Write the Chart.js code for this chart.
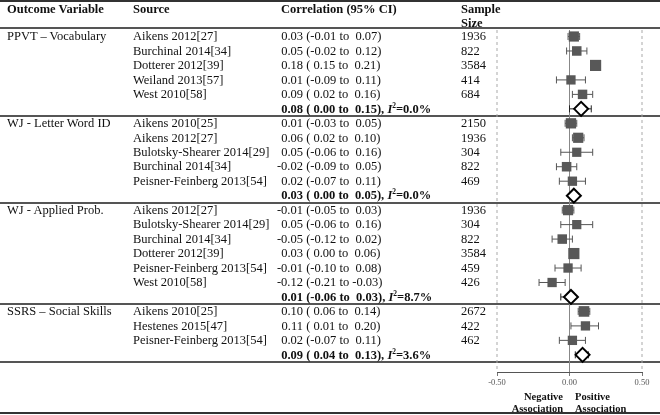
<!DOCTYPE html>
<html>
<head>
<meta charset="utf-8">
<script src="https://cdn.jsdelivr.net/npm/chart.js@4/dist/chart.umd.min.js"></script>
<style>
  body { margin: 0; background: #fff; }
  #wrap { position: relative; width: 660px; height: 415px; overflow: hidden; background: #fff;
          font-family: 'Liberation Serif', 'Times New Roman', serif; font-size: 12.5px; color: #111; }
  .t { position: absolute; white-space: pre; height: 14.5px; line-height: 14.5px; }
  .hd { font-weight: bold; }
  .b { font-weight: bold; }
  .est { display: inline-block; width: 33px; text-align: right; }
  .rule { position: absolute; left: 0; width: 660px; }
  .note { position: absolute; font-weight: bold; font-size: 10.5px; line-height: 12px; white-space: pre; }
  sup { font-size: 7.5px; vertical-align: 5px; line-height: 0; }
  canvas { position: absolute; left: 0; top: 0; }
</style>
</head>
<body>
<div id="wrap">
  <canvas id="forest" width="660" height="415"></canvas>
</div>
<script>
  // Table data
  const outcomes = ['PPVT – Vocabulary', 'WJ - Letter Word ID', 'WJ - Applied Prob.', 'SSRS – Social Skills'];
  const studiesPerOutcome = [5, 5, 6, 3];
  const sources = [
    'Aikens 2012[27]', 'Burchinal 2014[34]', 'Dotterer 2012[39]', 'Weiland 2013[57]', 'West 2010[58]',
    'Aikens 2010[25]', 'Aikens 2012[27]', 'Bulotsky-Shearer 2014[29]', 'Burchinal 2014[34]', 'Peisner-Feinberg 2013[54]',
    'Aikens 2012[27]', 'Bulotsky-Shearer 2014[29]', 'Burchinal 2014[34]', 'Dotterer 2012[39]', 'Peisner-Feinberg 2013[54]', 'West 2010[58]',
    'Aikens 2010[25]', 'Hestenes 2015[47]', 'Peisner-Feinberg 2013[54]'
  ];
  const estimates = [0.03, 0.05, 0.18, 0.01, 0.09,  0.01, 0.06, 0.05, -0.02, 0.02,  -0.01, 0.05, -0.05, 0.03, -0.01, -0.12,  0.10, 0.11, 0.02];
  const lowerCI   = [-0.01, -0.02, 0.15, -0.09, 0.02,  -0.03, 0.02, -0.06, -0.09, -0.07,  -0.05, -0.06, -0.12, 0.00, -0.10, -0.21,  0.06, 0.01, -0.07];
  const upperCI   = [0.07, 0.12, 0.21, 0.11, 0.16,  0.05, 0.10, 0.16, 0.05, 0.11,  0.03, 0.16, 0.02, 0.06, 0.08, -0.03,  0.14, 0.20, 0.11];
  const sampleSizes = [1936, 822, 3584, 414, 684,  2150, 1936, 304, 822, 469,  1936, 304, 822, 3584, 459, 426,  2672, 422, 462];
  const pooledEst = [0.08, 0.03, 0.01, 0.09];
  const pooledLo  = [0.00, 0.00, -0.06, 0.04];
  const pooledHi  = [0.15, 0.05, 0.03, 0.13];
  const iSquared  = ['0.0%', '0.0%', '8.7%', '3.6%'];
  const xTicks = [-0.5, 0, 0.5];

  // Layout (pixels)
  const ROW0 = 36.5, ROW_H = 14.47;
  const COL_OUTCOME = 7, COL_SOURCE = 133, COL_CI = 270, COL_N = 461;
  const PLOT_LEFT = 497, PLOT_RIGHT = 642, PLOT_TOP = 30, PLOT_BOTTOM = 372, AXIS_H = 18;
  const SERIF = "'Liberation Serif', 'Times New Roman', serif";

  const wrap = document.getElementById('wrap');

  function addText(html, x, yCenter, cls) {
    const d = document.createElement('div');
    d.className = 't ' + (cls || '');
    d.style.left = x + 'px';
    d.style.top = (yCenter - 7.25) + 'px';
    d.innerHTML = html;
    wrap.appendChild(d);
  }

  function addRule(y, w, color) {
    const d = document.createElement('div');
    d.className = 'rule';
    d.style.top = (y - w / 2) + 'px';
    d.style.height = w + 'px';
    d.style.background = color;
    wrap.insertBefore(d, wrap.firstChild);
  }

  const pad = v => (v < 0 ? '' : ' ') + v.toFixed(2);
  const ciRest = (lo, hi) => ' (' + pad(lo) + ' to ' + pad(hi) + ')';
  const rowY = r => ROW0 + ROW_H * r;

  // header
  addText('Outcome Variable', COL_OUTCOME, 9, 'hd');
  addText('Source', COL_SOURCE, 9, 'hd');
  addText('Correlation (95% CI)', 281, 9, 'hd');
  addText('Sample', COL_N, 9, 'hd');
  addText('Size', COL_N, 23, 'hd');
  addRule(1, 2, '#333');
  addRule(28, 1.5, '#555');
  addRule(413, 2, '#333');

  // rows
  const studyRows = [];
  const pooledRows = [];
  let r = 0, s = 0;
  outcomes.forEach((name, g) => {
    for (let k = 0; k < studiesPerOutcome[g]; k++) {
      const y = rowY(r);
      if (k === 0) addText(name, COL_OUTCOME, y);
      addText(sources[s], COL_SOURCE, y);
      addText('<span class="est">' + estimates[s].toFixed(2) + '</span>' + ciRest(lowerCI[s], upperCI[s]), COL_CI, y);
      addText(String(sampleSizes[s]), COL_N, y);
      studyRows.push(r);
      s++; r++;
    }
    addText('<span class="est">' + pooledEst[g].toFixed(2) + '</span>' + ciRest(pooledLo[g], pooledHi[g]) +
            ', <i>I</i><sup>2</sup>=' + iSquared[g], COL_CI, rowY(r), 'b');
    pooledRows.push(r);
    addRule(rowY(r + 0.5), 1.5, '#555');
    r++;
  });

  // association notes
  [['Negative', 397], ['Association', 409]].forEach(([txt, y]) => {
    const d = document.createElement('div');
    d.className = 'note';
    d.style.right = (660 - 563) + 'px';
    d.style.top = (y - 6) + 'px';
    d.textContent = txt;
    wrap.appendChild(d);
  });
  [['Positive', 397], ['Association', 409]].forEach(([txt, y]) => {
    const d = document.createElement('div');
    d.className = 'note';
    d.style.left = '575px';
    d.style.top = (y - 6) + 'px';
    d.textContent = txt;
    wrap.appendChild(d);
  });

  // forest plot
  const yMin = (PLOT_TOP - ROW0) / ROW_H;
  const yMax = (PLOT_BOTTOM - ROW0) / ROW_H;

  const datasets = [];

  // study squares
  datasets.push({
    data: estimates.map((e, i) => ({ x: e, y: studyRows[i] })),
    pointStyle: 'rect',
    pointRadius: sampleSizes.map(n => 6.4 + 1.5 * n / 3584),
    backgroundColor: '#585858',
    borderWidth: 0
  });

  // pooled diamonds
  datasets.push({
    data: pooledEst.map((e, g) => ({ x: e, y: pooledRows[g] })),
    pointStyle: 'rectRot',
    pointRadius: 7,
    backgroundColor: '#fff',
    borderColor: '#000',
    pointBorderWidth: 2
  });

  // confidence intervals with end caps
  estimates.forEach((e, i) => {
    datasets.push({
      data: [{ x: lowerCI[i], y: studyRows[i] }, { x: upperCI[i], y: studyRows[i] }],
      showLine: true,
      borderColor: '#555',
      borderWidth: 1,
      pointStyle: 'line',
      pointRotation: 90,
      pointRadius: 3.5,
      pointBorderColor: '#555',
      pointBorderWidth: 1
    });
  });
  pooledEst.forEach((e, g) => {
    datasets.push({
      data: [{ x: pooledLo[g], y: pooledRows[g] }, { x: pooledHi[g], y: pooledRows[g] }],
      showLine: true,
      borderColor: '#222',
      borderWidth: 1,
      pointStyle: 'line',
      pointRotation: 90,
      pointRadius: 3.5,
      pointBorderColor: '#222',
      pointBorderWidth: 1
    });
  });

  // reference lines at ticks
  xTicks.forEach(v => {
    datasets.push({
      data: [{ x: v, y: yMin }, { x: v, y: yMax }],
      showLine: true,
      borderColor: v === 0 ? '#888' : '#aaa',
      borderWidth: 1,
      borderDash: v === 0 ? [] : [3, 3],
      pointRadius: 0,
      clip: 2
    });
  });

  new Chart(document.getElementById('forest'), {
    type: 'scatter',
    data: { datasets },
    options: {
      responsive: false,
      animation: false,
      devicePixelRatio: 1,
      layout: {
        padding: { left: PLOT_LEFT, right: 660 - PLOT_RIGHT, top: PLOT_TOP, bottom: 415 - PLOT_BOTTOM - AXIS_H }
      },
      plugins: { legend: { display: false }, tooltip: { enabled: false } },
      scales: {
        x: {
          type: 'linear',
          min: -0.5,
          max: 0.5,
          afterBuildTicks: scale => { scale.ticks = xTicks.map(v => ({ value: v })); },
          afterFit: scale => { scale.height = AXIS_H; },
          grid: { drawOnChartArea: false, drawTicks: true, tickLength: 4, color: '#777' },
          border: { color: '#555', width: 1 },
          ticks: {
            padding: 2,
            color: '#555',
            font: { family: SERIF, size: 8.5 },
            maxRotation: 0,
            callback: v => Number(v).toFixed(2)
          }
        },
        y: { type: 'linear', reverse: true, min: yMin, max: yMax, display: false }
      }
    }
  });
</script>
</body>
</html>
